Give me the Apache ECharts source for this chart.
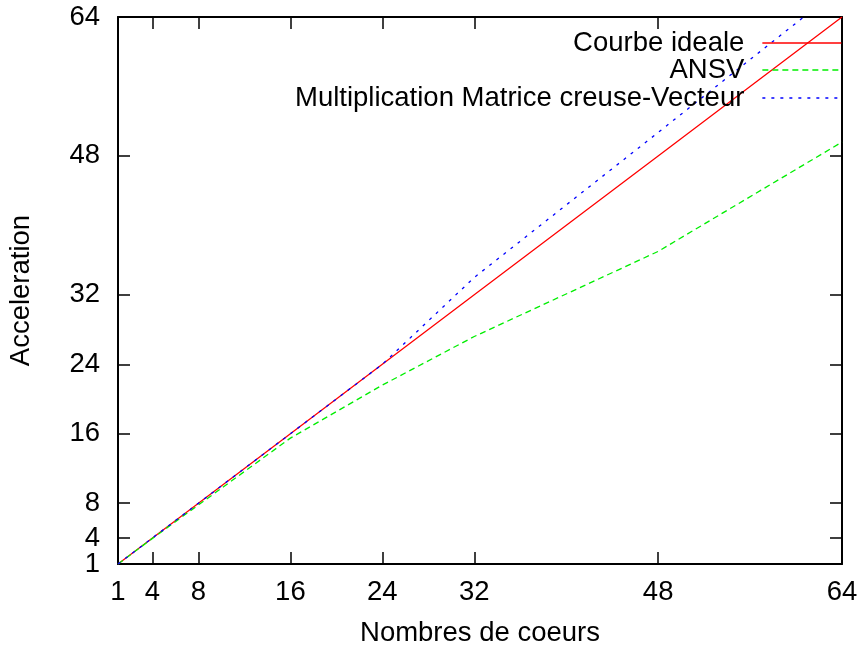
<!DOCTYPE html>
<html>
<head>
<meta charset="utf-8">
<script src="https://cdn.jsdelivr.net/npm/echarts@6/dist/echarts.min.js"></script>
<style>
html,body{margin:0;padding:0;background:#fff;}
#main{width:864px;height:647px;}
</style>
</head>
<body>
<div id="main"></div>
<script>
// data
var coeurs = [1, 4, 8, 16, 24, 32, 48, 64];
var ideale = [1, 4, 8, 16, 24, 32, 48, 64];
var ansv = [1, 3.95, 7.8, 15.5, 21.6, 27.2, 37.0, 49.6];
var spmv = [1, 4, 8, 16, 24, 34.0, 50.7, 67.5];
var xTicks = [1, 4, 8, 16, 24, 32, 48, 64];
var yTicks = [1, 4, 8, 16, 24, 32, 48, 64];

function pairs(xs, ys){
	var out = [];
	for(var i=0;i<xs.length;i++){
		out.push([xs[i], ys[i]]);
	}
	return out;
}

var FONT = 'Liberation Sans';
var FS = 27.5;

var chart = echarts.init(document.getElementById('main'));

function legendItem(name, top){
	return {
		data: [name],
		orient: 'vertical',
		right: 22,
		top: top,
		padding: 0,
		align: 'right',
		itemWidth: 79,
		itemHeight: 12,
		selectedMode: false,
		itemStyle: {opacity: 0},
		lineStyle: {width: 1.3},
		textStyle: {
			fontFamily: FONT,
			fontSize: FS,
			color: '#000',
			padding: [0, 13, 0, 0]
		}
	};
}

var tickLine = {color: '#000', width: 1.5};
var axisLineStyle = {show: true, onZero: false, lineStyle: {color: '#000', width: 2}};

// "1" et "4" sont trop proches : le "1" passe sur un axe a part sinon echarts le masque
var yLabelsBas = yTicks.slice(0, 1);
var yLabelsHaut = yTicks.slice(1);

var option = {
	animation: false,
	backgroundColor: '#fff',
	grid: {
		left: 118,
		right: 22,
		top: 17,
		bottom: 83,
		containLabel: false,
		outerBoundsMode: 'none'
	},
	legend: [
		legendItem('Courbe ideale', 29),
		legendItem('ANSV', 56),
		legendItem('Multiplication Matrice creuse-Vecteur', 84)
	],
	xAxis: [
		{
			type: 'value',
			min: 1,
			max: 64,
			position: 'bottom',
			name: 'Nombres de coeurs',
			nameLocation: 'middle',
			nameGap: 55,
			nameTextStyle: {fontFamily: FONT, fontSize: FS, color: '#000'},
			axisLine: axisLineStyle,
			axisTick: {inside: true, length: 12, lineStyle: tickLine, customValues: xTicks},
			axisLabel: {customValues: xTicks, showMinLabel: true, showMaxLabel: true, hideOverlap: false,
				fontFamily: FONT, fontSize: FS, color: '#000', margin: 14},
			splitLine: {show: false}
		},
		{
			type: 'value',
			min: 1,
			max: 64,
			position: 'top',
			axisLine: axisLineStyle,
			axisTick: {inside: true, length: 12, lineStyle: tickLine, customValues: xTicks},
			axisLabel: {show: false},
			splitLine: {show: false}
		}
	],
	yAxis: [
		{
			type: 'value',
			min: 1,
			max: 64,
			position: 'left',
			name: 'Acceleration',
			nameLocation: 'middle',
			nameGap: 83,
			nameTextStyle: {fontFamily: FONT, fontSize: FS, color: '#000'},
			axisLine: axisLineStyle,
			axisTick: {inside: true, length: 12, lineStyle: tickLine, customValues: yTicks},
			axisLabel: {customValues: yLabelsHaut, showMinLabel: true, showMaxLabel: true, hideOverlap: false,
				fontFamily: FONT, fontSize: FS, color: '#000', margin: 18},
			splitLine: {show: false}
		},
		{
			type: 'value',
			min: 1,
			max: 64,
			position: 'right',
			axisLine: axisLineStyle,
			axisTick: {inside: true, length: 12, lineStyle: tickLine, customValues: yTicks},
			axisLabel: {show: false},
			splitLine: {show: false}
		},
		{
			type: 'value',
			min: 1,
			max: 64,
			position: 'left',
			axisLine: {show: false},
			axisTick: {show: false},
			axisLabel: {customValues: yLabelsBas, showMinLabel: true,
				fontFamily: FONT, fontSize: FS, color: '#000', margin: 18},
			splitLine: {show: false}
		}
	],
	series: [
		{
			name: 'Courbe ideale',
			type: 'line',
			data: pairs(coeurs, ideale),
			symbol: 'none',
			clip: true,
			color: '#ff0000',
			lineStyle: {color: '#ff0000', width: 1.3}
		},
		{
			name: 'ANSV',
			type: 'line',
			data: pairs(coeurs, ansv),
			symbol: 'none',
			clip: true,
			color: '#00ee00',
			lineStyle: {color: '#00ee00', width: 1.3, type: [6, 4]}
		},
		{
			name: 'Multiplication Matrice creuse-Vecteur',
			type: 'line',
			data: pairs(coeurs, spmv),
			symbol: 'none',
			clip: true,
			color: '#0000ff',
			lineStyle: {color: '#0000ff', width: 1.3, type: [3, 6]}
		}
	]
};

chart.setOption(option);
</script>
</body>
</html>
